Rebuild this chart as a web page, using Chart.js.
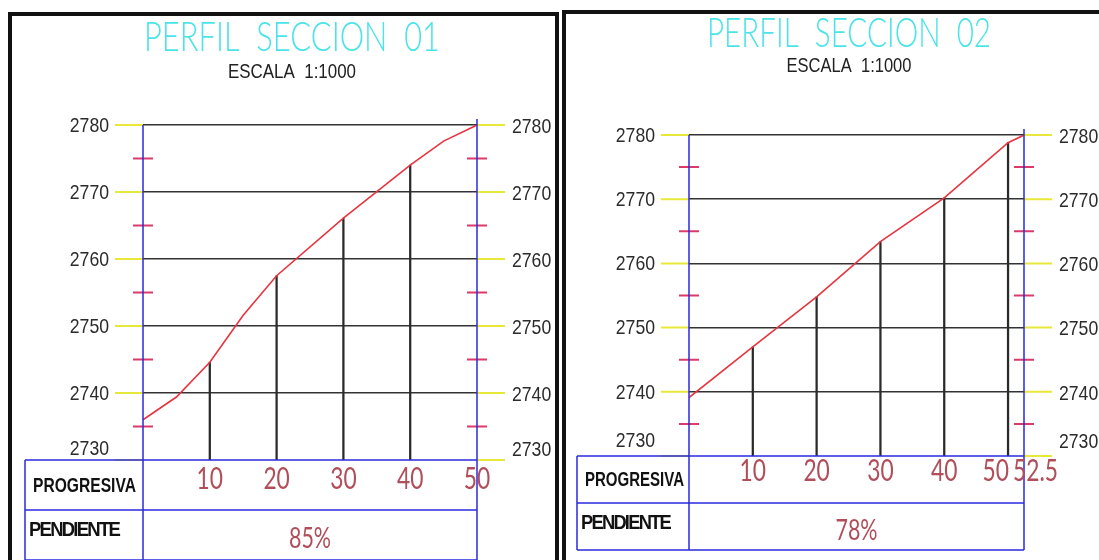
<!DOCTYPE html>
<html>
<head>
<meta charset="UTF-8">
<title>Perfil Seccion 01 / 02</title>
<script src="https://cdn.jsdelivr.net/npm/chart.js@4/dist/chart.umd.min.js"></script>
<style>
    body { margin: 0; background: #fff; width: 1099px; height: 560px; overflow: hidden; position: relative; }
    canvas { position: absolute; top: 0; }
</style>
</head>
<body>
<canvas id="perfil1" width="560" height="560" style="left:0"></canvas>
<canvas id="perfil2" width="539" height="560" style="left:560px"></canvas>

<script type="text/javascript">
    // cotas del eje vertical (m.s.n.m.)
    var cotas = [2730, 2740, 2750, 2760, 2770, 2780];
    var cotasMenores = [2735, 2745, 2755, 2765, 2775];

    // seccion 01
    var prog1 = [0, 5, 10, 15, 20, 30, 40, 45, 50];
    var cota1 = [2736.0, 2739.4, 2744.6, 2751.6, 2757.5, 2766.1, 2774.0, 2777.6, 2780.0];
    var estaciones1 = [10, 20, 30, 40];
    var etiquetas1 = [10, 20, 30, 40, 50];
    var pendiente1 = "85%";

    // seccion 02
    var prog2 = [0, 10, 20, 30, 40, 50, 52.5];
    var cota2 = [2739.1, 2747.0, 2754.8, 2763.4, 2770.2, 2778.8, 2780.0];
    var estaciones2 = [10, 20, 30, 40, 50];
    var etiquetas2 = [10, 20, 30, 40, 50, 52.5];
    var pendiente2 = "78%";

    var FUENTE = "'Liberation Sans', Arial, sans-serif";
    var FINA = "Lato, 'Liberation Sans', sans-serif";

    function cotaEn(prog, cota, x) {
        for (var i = 0; i < prog.length; i++) {
            if (prog[i] === x) return cota[i];
        }
        return null;
    }

    // texto comprimido horizontalmente (tipo letra CAD)
    function texto(ctx, s, x, y, align, sx) {
        ctx.save();
        ctx.translate(x, y);
        ctx.scale(sx, 1);
        ctx.textAlign = align;
        ctx.fillText(s, 0, 0);
        ctx.restore();
    }

    // texto ajustado a un ancho dado
    function textoAncho(ctx, s, x, y, align, ancho) {
        var w = ctx.measureText(s).width;
        texto(ctx, s, x, y, align, ancho / w);
    }

    var cadPlugin = {
        id: 'cad',
        afterDraw: function (chart) {
            var o = chart.options.plugins.cad;
            var ctx = chart.ctx;
            var a = chart.chartArea;
            var xs = chart.scales.x;
            var ys = chart.scales.y;
            var tablaBajo = a.bottom + o.fila1 + o.fila2;
            ctx.save();
            ctx.textBaseline = 'middle';

            // marco del plano
            ctx.strokeStyle = '#111';
            ctx.lineWidth = 4;
            ctx.beginPath();
            ctx.moveTo(o.marco[0], 600);
            ctx.lineTo(o.marco[0], o.marco[1]);
            ctx.lineTo(o.marco[2], o.marco[1]);
            ctx.lineTo(o.marco[2], 600);
            ctx.stroke();

            // titulos
            ctx.fillStyle = '#4ae4e8';
            ctx.font = '300 41px ' + FINA;
            textoAncho(ctx, o.titulo, o.tituloX, o.tituloY, 'center', o.tituloAncho);
            ctx.fillStyle = '#222';
            ctx.font = '20px ' + FUENTE;
            textoAncho(ctx, 'ESCALA  1:1000', o.tituloX, o.tituloY + o.escalaDy, 'center', o.escalaAncho);

            // marcas amarillas (cotas principales)
            ctx.strokeStyle = '#e8e83a';
            ctx.lineWidth = 2;
            cotas.forEach(function (c) {
                var py = ys.getPixelForValue(c);
                ctx.beginPath();
                ctx.moveTo(a.left - 28, py); ctx.lineTo(a.left, py);
                ctx.moveTo(a.right, py); ctx.lineTo(a.right + 28, py);
                ctx.stroke();
            });

            // marcas rojas (cotas intermedias)
            ctx.strokeStyle = '#dc3b6a';
            cotasMenores.forEach(function (c) {
                var py = ys.getPixelForValue(c);
                ctx.beginPath();
                ctx.moveTo(a.left - 10, py); ctx.lineTo(a.left + 10, py);
                ctx.moveTo(a.right - 10, py); ctx.lineTo(a.right + 10, py);
                ctx.stroke();
            });

            // ejes y tabla
            ctx.strokeStyle = '#2a2ae0';
            ctx.lineWidth = 1.5;
            ctx.beginPath();
            ctx.moveTo(a.left, a.top); ctx.lineTo(a.left, tablaBajo);
            ctx.moveTo(a.right, a.top - 6); ctx.lineTo(a.right, tablaBajo);
            ctx.moveTo(o.tablaIzq, a.bottom); ctx.lineTo(a.right, a.bottom);
            ctx.moveTo(o.tablaIzq, a.bottom + o.fila1); ctx.lineTo(a.right, a.bottom + o.fila1);
            ctx.moveTo(o.tablaIzq, tablaBajo); ctx.lineTo(a.right, tablaBajo);
            ctx.moveTo(o.tablaIzq, a.bottom); ctx.lineTo(o.tablaIzq, tablaBajo);
            ctx.stroke();

            // etiquetas de cota
            ctx.fillStyle = '#2b2b2b';
            ctx.font = '21px ' + FUENTE;
            cotas.forEach(function (c) {
                var py = ys.getPixelForValue(c);
                if (c === cotas[0]) py -= o.subeBase;
                texto(ctx, String(c), a.left - 34, py + 1, 'right', 0.84);
                texto(ctx, String(c), a.right + 35, py + 2, 'left', 0.84);
            });

            // progresivas
            ctx.fillStyle = '#b04f5a';
            ctx.font = '30px ' + FINA;
            var ets = o.etiquetas;
            for (var i = 0; i < ets.length; i++) {
                var px = xs.getPixelForValue(ets[i]);
                var al = 'center', dx = 0;
                if (i < ets.length - 1 && xs.getPixelForValue(ets[i + 1]) - px < 30) { al = 'right'; dx = 1; }
                if (i > 0 && px - xs.getPixelForValue(ets[i - 1]) < 30) { al = 'left'; dx = -11; }
                texto(ctx, String(ets[i]), px + dx, a.bottom + o.progY, al, 0.76);
            }

            // textos de la tabla
            ctx.fillStyle = '#111';
            ctx.font = 'bold 20px ' + FUENTE;
            textoAncho(ctx, 'PROGRESIVA', o.tablaIzq + 8, a.bottom + o.fila1 / 2 + 1, 'left', o.progAncho);
            ctx.font = '900 21px ' + FUENTE;
            ctx.letterSpacing = '-2px';
            textoAncho(ctx, 'PENDIENTE', o.tablaIzq + 4, a.bottom + o.fila1 + 20, 'left', o.pendAncho);
            ctx.letterSpacing = '0px';

            ctx.fillStyle = '#b04f5a';
            ctx.font = '29px ' + FINA;
            texto(ctx, o.pendiente, (a.left + a.right) / 2, a.bottom + o.fila1 + o.fila2 / 2 + 4, 'center', 0.74);

            ctx.restore();
        }
    };

    function makePerfil(id, prog, cota, estaciones, extra) {
        var barras = estaciones.map(function (x) {
            return { x: x, y: [cotas[0], cotaEn(prog, cota, x)] };
        });
        var config = {
            data: {
                datasets: [{
                    type: 'line',
                    data: prog.map(function (x, i) { return { x: x, y: cota[i] }; }),
                    borderColor: '#e8343f',
                    borderWidth: 1.6,
                    pointRadius: 0,
                    tension: 0,
                    order: 0
                }, {
                    type: 'bar',
                    data: barras,
                    backgroundColor: '#2a2a2a',
                    barThickness: 1.6,
                    order: 1
                }]
            },
            options: {
                responsive: false,
                animation: false,
                layout: { padding: { top: extra.top, left: 0, right: 0, bottom: 0 } },
                plugins: {
                    legend: { display: false },
                    tooltip: { enabled: false },
                    cad: extra
                },
                scales: {
                    x: {
                        type: 'linear',
                        min: 0,
                        max: prog[prog.length - 1],
                        offset: false,
                        grid: { display: false },
                        border: { display: false },
                        ticks: { display: false },
                        afterFit: function (s) { s.height = extra.bajoX; }
                    },
                    y: {
                        position: 'left',
                        min: cotas[0],
                        max: cotas[cotas.length - 1],
                        ticks: { display: false, stepSize: 10 },
                        border: { display: false },
                        grid: {
                            drawTicks: false,
                            lineWidth: 1.5,
                            color: function (c) { return c.tick && c.tick.value === cotas[0] ? 'rgba(0,0,0,0)' : '#333'; }
                        },
                        afterFit: function (s) { s.width = extra.anchoIzq; }
                    },
                    y2: {
                        position: 'right',
                        min: cotas[0],
                        max: cotas[cotas.length - 1],
                        ticks: { display: false },
                        border: { display: false },
                        grid: { display: false },
                        afterFit: function (s) { s.width = extra.anchoDer; }
                    }
                }
            },
            plugins: [cadPlugin]
        };
        var ctx = document.getElementById(id).getContext('2d');
        return new Chart(ctx, config);
    }

    window.onload = function () {
        window.perfil1 = makePerfil('perfil1', prog1, cota1, estaciones1, {
            top: 125, bajoX: 100, anchoIzq: 143, anchoDer: 83,
            marco: [10, 14, 557], titulo: 'PERFIL  SECCION  01', tituloX: 292, tituloY: 38,
            tituloAncho: 296, escalaDy: 34, escalaAncho: 128,
            tablaIzq: 25, fila1: 50, fila2: 50, subeBase: 12, progY: 19,
            progAncho: 103, pendAncho: 90,
            etiquetas: etiquetas1, pendiente: pendiente1
        });
        window.perfil2 = makePerfil('perfil2', prog2, cota2, estaciones2, {
            top: 135, bajoX: 104, anchoIzq: 129, anchoDer: 75,
            marco: [4, 12, 600], titulo: 'PERFIL  SECCION  02', tituloX: 289, tituloY: 34,
            tituloAncho: 284, escalaDy: 32, escalaAncho: 125,
            tablaIzq: 17, fila1: 47, fila2: 47, subeBase: 16, progY: 15,
            progAncho: 99, pendAncho: 89,
            etiquetas: etiquetas2, pendiente: pendiente2
        });
    };
</script>
</body>
</html>
